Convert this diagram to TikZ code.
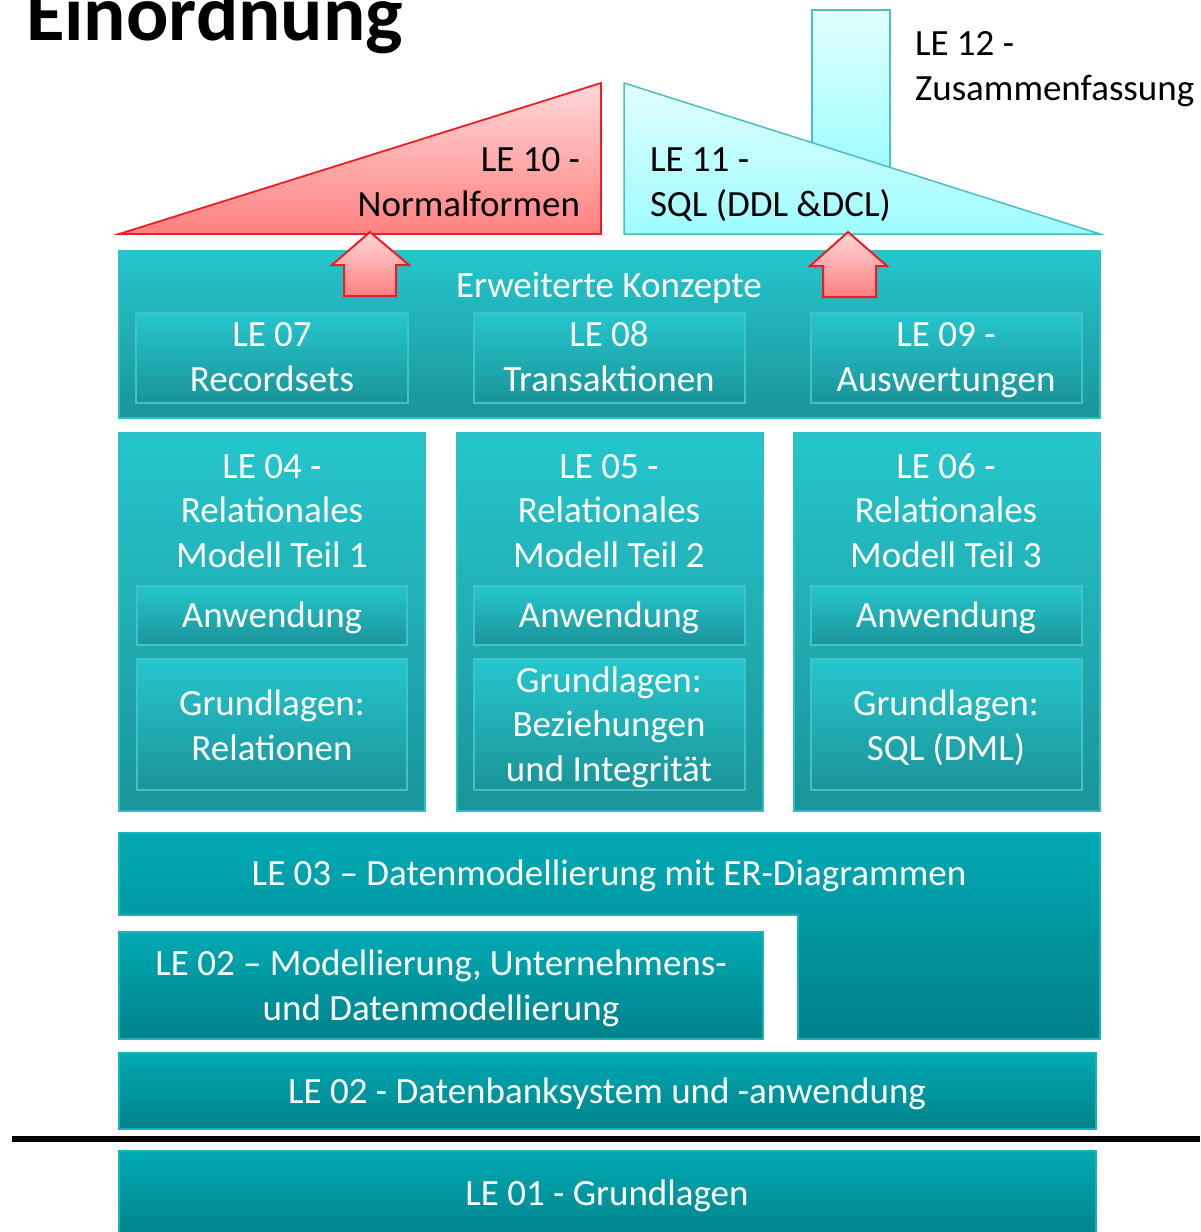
\documentclass[tikz,border=0pt]{standalone}
\usepackage{fontspec}
\setmainfont{Carlito}
\begin{document}
\begin{tikzpicture}[x=1pt,y=-1pt,
  every node/.style={inner sep=0pt,outer sep=0pt},
  wtxt/.style={text=white,font=\fontsize{37}{44.5}\selectfont,align=center,anchor=base},
  btxt/.style={text=black,font=\fontsize{37}{44.5}\selectfont,anchor=base},
  upbox/.style={draw=upedge,line width=1.2pt,top color=upTop,bottom color=upBot},
  inbox/.style={draw=inedge,line width=1.2pt,top color=upTop,bottom color=upBot},
  lowbox/.style={draw=lowedge,line width=1.2pt,top color=lowTop,bottom color=lowBot},
  redshape/.style={draw=redline,line width=1.8pt,top color=pinkTop,bottom color=pinkBot},
  cyanshape/.style={draw=cyanline,line width=1.5pt,top color=ltcTop,bottom color=ltcBot}
]
\definecolor{upTop}{HTML}{25C6CD}
\definecolor{upBot}{HTML}{1A9499}
\definecolor{upedge}{HTML}{2DBFC4}
\definecolor{inedge}{HTML}{3EC3C8}
\definecolor{lowTop}{HTML}{00AAB4}
\definecolor{lowBot}{HTML}{00818A}
\definecolor{lowedge}{HTML}{17B3BB}
\definecolor{pinkTop}{HTML}{FFD8D8}
\definecolor{pinkBot}{HTML}{FF8080}
\definecolor{redline}{HTML}{EE1C25}
\definecolor{ltcTop}{HTML}{E2FFFF}
\definecolor{ltcBot}{HTML}{9EFCFF}
\definecolor{cyanline}{HTML}{4DBDBF}

\useasboundingbox (0,0) rectangle (1200,1232);

% title
\node (title) at (26,40) [anchor=base west,font=\fontsize{79}{90}\selectfont\bfseries] {Einordnung};

% roof: red triangle
\path[redshape] (119,234) -- (601,83) -- (601,234) -- cycle;
\node (le10) at (580,216) [btxt,anchor=base east,align=right] {LE 10 -\\Normalformen};

% roof: cyan with chimney
\path[cyanshape] (812,142.6) -- (812,10) -- (890,10) -- (890,167.4);
\path[cyanshape] (624,83) -- (1100,234) -- (624,234) -- cycle;
\node (le11) at (650,216) [btxt,anchor=base west,align=left] {LE 11 -\\SQL (DDL \&DCL)};
\node (le12) at (915,100) [btxt,anchor=base west,align=left] {LE 12 -\\Zusammenfassung};

% Erweiterte Konzepte
\path[upbox] (119,251) rectangle (1100,418);
\node (erw) at (609,297) [wtxt] {Erweiterte Konzepte};
\path[inbox] (136,313) rectangle (408,403);
\path[inbox] (474,313) rectangle (745,403);
\path[inbox] (811,313) rectangle (1082,403);
\node (le07) at (272,391) [wtxt] {LE 07\\Recordsets};
\node (le08) at (609,391) [wtxt] {LE 08\\Transaktionen};
\node (le09) at (946,391) [wtxt] {LE 09 -\\Auswertungen};

% arrows
\path[redshape,line width=2pt] (370,232) -- (409,265) -- (396,265) -- (396,296) -- (344,296) -- (344,265) -- (332,265) -- cycle;
\path[redshape,line width=2pt] (848,232) -- (887,266) -- (876,266) -- (876,297) -- (823,297) -- (823,266) -- (810,266) -- cycle;

% columns
\foreach \xa/\xb/\ia/\ib in {119/425/137/407, 457/763/474/745, 794/1100/811/1082}{
  \path[upbox] (\xa,433) rectangle (\xb,811);
  \path[inbox] (\ia,586) rectangle (\ib,645);
  \path[inbox] (\ia,659) rectangle (\ib,790);
}
\node (le04) at (272,567) [wtxt] {LE 04 -\\Relationales\\Modell Teil 1};
\node (le05) at (609,567) [wtxt] {LE 05 -\\Relationales\\Modell Teil 2};
\node (le06) at (946,567) [wtxt] {LE 06 -\\Relationales\\Modell Teil 3};
\node (anw1) at (272,627) [wtxt] {Anwendung};
\node (anw2) at (609,627) [wtxt] {Anwendung};
\node (anw3) at (946,627) [wtxt] {Anwendung};
\node (gr1) at (272,760) [wtxt] {Grundlagen:\\Relationen};
\node (gr2) at (609,781) [wtxt] {Grundlagen:\\Beziehungen\\und Integrität};
\node (gr3) at (946,760) [wtxt] {Grundlagen:\\SQL (DML)};

% lower levels
\path[lowbox] (119,833) -- (1100,833) -- (1100,1039) -- (798,1039) -- (798,915) -- (119,915) -- cycle;
\node (le03) at (609,885) [wtxt] {LE 03 -- Datenmodellierung mit ER-Diagrammen};
\path[lowbox] (119,932) rectangle (763,1039);
\node (le02a) at (441,1020) [wtxt] {LE 02 -- Modellierung, Unternehmens-\\und Datenmodellierung};
\path[lowbox] (119,1053) rectangle (1096,1129);
\node (le02b) at (607,1103) [wtxt] {LE 02 - Datenbanksystem und -anwendung};
\draw[line width=6.5pt,black] (12,1139) -- (1200,1139);
\path[lowbox] (119,1151) rectangle (1096,1240);
\node (le01) at (607,1205) [wtxt] {LE 01 - Grundlagen};
\end{tikzpicture}
\end{document}
